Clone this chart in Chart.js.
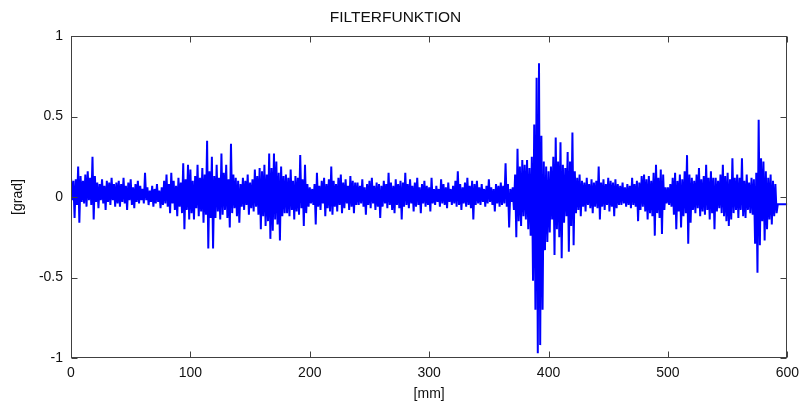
<!DOCTYPE html>
<html lang="de">
<head>
  <meta charset="UTF-8">
  <title>Filterfunktion</title>
  <script src="https://cdn.jsdelivr.net/npm/chart.js"></script>
  <style>
    html, body { margin: 0; padding: 0; background: #fff; }
    #wrap { width: 806px; height: 409px; }
  </style>
</head>
<body>
<div id="wrap"><canvas id="grafico"></canvas></div>

<script>
  const stepMm = 2;

  // obere Spitzen, je 2 mm (bei 0, 2, 4 ... 590 mm)
  const upperPeaks = [
    0.12, 0.10, 0.11, 0.19, 0.13, 0.10, 0.14, 0.16, 0.12, 0.25,
    0.13, 0.09, 0.08, 0.11, 0.07, 0.10, 0.09, 0.12, 0.08, 0.09,
    0.10, 0.08, 0.12, 0.07, 0.09, 0.11, 0.06, 0.08, 0.10, 0.07,
    0.05, 0.15, 0.06, 0.04, 0.07, 0.05, 0.08, 0.04, 0.06, 0.10,
    0.14, 0.08, 0.15, 0.10, 0.07, 0.12, 0.09, 0.21, 0.11, 0.20,
    0.17, 0.10, 0.13, 0.20, 0.12, 0.18, 0.14, 0.35, 0.16, 0.25,
    0.13, 0.20, 0.12, 0.27, 0.15, 0.20, 0.11, 0.33, 0.14, 0.12,
    0.10, 0.08, 0.12, 0.10, 0.14, 0.09, 0.11, 0.17, 0.13, 0.18,
    0.16, 0.20, 0.14, 0.27, 0.18, 0.27, 0.22, 0.15, 0.19, 0.13,
    0.14, 0.12, 0.17, 0.10, 0.13, 0.12, 0.26, 0.11, 0.20, 0.08,
    0.06, 0.05, 0.08, 0.15, 0.07, 0.10, 0.12, 0.08, 0.11, 0.19,
    0.10, 0.08, 0.12, 0.14, 0.09, 0.11, 0.07, 0.13, 0.10, 0.09,
    0.09, 0.07, 0.11, 0.06, 0.08, 0.10, 0.12, 0.07, 0.09, 0.08,
    0.07, 0.10, 0.08, 0.15, 0.09, 0.07, 0.11, 0.08, 0.10, 0.09,
    0.15, 0.08, 0.11, 0.07, 0.09, 0.12, 0.06, 0.08, 0.10, 0.07,
    0.06, 0.12, 0.05, 0.07, 0.05, 0.11, 0.08, 0.06, 0.09, 0.05,
    0.07, 0.10, 0.16, 0.08, 0.06, 0.09, 0.12, 0.07, 0.10, 0.08,
    0.10, 0.06, 0.08, 0.05, 0.07, 0.11, 0.06, 0.05, 0.08, 0.07,
    0.09, 0.07, 0.21, 0.08, 0.05, 0.06, 0.14, 0.30, 0.19, 0.23,
    0.20, 0.23, 0.18, 0.25, 0.45, 0.74, 0.83, 0.38, 0.22, 0.19,
    0.16, 0.19, 0.25, 0.37, 0.22, 0.34, 0.20, 0.18, 0.28, 0.22,
    0.40, 0.16, 0.12, 0.14, 0.10, 0.09, 0.12, 0.08, 0.11, 0.09,
    0.10, 0.19, 0.09, 0.11, 0.08, 0.12, 0.10, 0.09, 0.11, 0.08,
    0.07, 0.09, 0.06, 0.08, 0.07, 0.12, 0.08, 0.10, 0.09, 0.13,
    0.14, 0.11, 0.13, 0.10, 0.15, 0.20, 0.12, 0.17, 0.14, 0.06,
    0.06, 0.08, 0.12, 0.15, 0.10, 0.14, 0.11, 0.16, 0.26, 0.14,
    0.12, 0.10, 0.14, 0.18, 0.11, 0.13, 0.20, 0.12, 0.16, 0.12,
    0.12, 0.10, 0.14, 0.20, 0.13, 0.15, 0.11, 0.24, 0.12, 0.14,
    0.12, 0.24, 0.10, 0.14, 0.09, 0.12, 0.11, 0.15, 0.48, 0.24,
    0.22, 0.16, 0.12, 0.14, 0.10, 0.08
  ];

  // untere Spitzen, je 2 mm (bei 1, 3, 5 ... 591 mm)
  const lowerPeaks = [
    -0.02, -0.13, -0.05, -0.16, -0.03, -0.04, -0.06, -0.02, -0.05, -0.14,
    -0.03, -0.07, -0.02, -0.04, -0.08, -0.03, -0.05, -0.02, -0.06, -0.04,
    -0.06, -0.03, -0.04, -0.08, -0.02, -0.05, -0.07, -0.03, -0.04, -0.02,
    -0.04, -0.02, -0.05, -0.03, -0.06, -0.04, -0.03, -0.07, -0.05, -0.04,
    -0.06, -0.10, -0.04, -0.08, -0.12, -0.06, -0.10, -0.20, -0.08, -0.14,
    -0.10, -0.14, -0.07, -0.12, -0.09, -0.16, -0.11, -0.32, -0.13, -0.32,
    -0.13, -0.09, -0.14, -0.11, -0.08, -0.13, -0.19, -0.10, -0.07, -0.12,
    -0.16, -0.06, -0.08, -0.05, -0.11, -0.07, -0.09, -0.06, -0.11, -0.20,
    -0.12, -0.18, -0.15, -0.26, -0.21, -0.14, -0.17, -0.27, -0.12, -0.10,
    -0.10, -0.12, -0.08, -0.14, -0.09, -0.11, -0.07, -0.18, -0.10, -0.06,
    -0.04, -0.05, -0.17, -0.06, -0.08, -0.04, -0.12, -0.07, -0.09, -0.11,
    -0.06, -0.09, -0.05, -0.10, -0.07, -0.04, -0.08, -0.06, -0.10, -0.05,
    -0.05, -0.04, -0.06, -0.11, -0.05, -0.07, -0.04, -0.08, -0.06, -0.13,
    -0.06, -0.04, -0.07, -0.05, -0.08, -0.10, -0.05, -0.07, -0.14, -0.06,
    -0.05, -0.07, -0.04, -0.09, -0.06, -0.05, -0.10, -0.04, -0.06, -0.05,
    -0.09, -0.04, -0.05, -0.03, -0.06, -0.04, -0.05, -0.07, -0.03, -0.05,
    -0.04, -0.06, -0.05, -0.08, -0.04, -0.06, -0.05, -0.07, -0.14, -0.05,
    -0.04, -0.05, -0.03, -0.06, -0.04, -0.03, -0.05, -0.09, -0.04, -0.06,
    -0.05, -0.04, -0.06, -0.19, -0.03, -0.08, -0.25, -0.15, -0.18, -0.12,
    -0.14, -0.20, -0.24, -0.52, -0.70, -0.97, -0.92, -0.70, -0.33, -0.28,
    -0.22, -0.14, -0.36, -0.20, -0.25, -0.38, -0.16, -0.12, -0.34, -0.18,
    -0.30, -0.10, -0.08, -0.12, -0.06, -0.09, -0.05, -0.07, -0.10, -0.06,
    -0.07, -0.14, -0.06, -0.08, -0.05, -0.09, -0.06, -0.12, -0.07, -0.05,
    -0.05, -0.04, -0.06, -0.05, -0.07, -0.05, -0.06, -0.15, -0.08, -0.06,
    -0.09, -0.14, -0.10, -0.12, -0.24, -0.10, -0.13, -0.23, -0.08, -0.04,
    -0.05, -0.06, -0.11, -0.20, -0.09, -0.19, -0.12, -0.10, -0.29, -0.16,
    -0.08, -0.10, -0.07, -0.12, -0.09, -0.11, -0.08, -0.14, -0.10, -0.20,
    -0.09, -0.07, -0.10, -0.12, -0.15, -0.18, -0.14, -0.10, -0.08, -0.13,
    -0.08, -0.12, -0.13, -0.08, -0.10, -0.11, -0.29, -0.47, -0.30, -0.15,
    -0.27, -0.20, -0.14, -0.17, -0.12, -0.10
  ];

  // flaches Ende der Kurve
  const tailMm = [592, 600];
  const tailGrad = [-0.045, -0.045];

  const xTicks = [0, 100, 200, 300, 400, 500, 600];
  const yTicks = [-1, -0.5, 0, 0.5, 1];

  // Punkte abwechselnd oben / unten zusammensetzen
  const punkte = [];
  upperPeaks.forEach((v, i) => {
    punkte.push({x: i * stepMm, y: v});
    punkte.push({x: i * stepMm + 1, y: lowerPeaks[i]});
  });
  tailMm.forEach((m, i) => punkte.push({x: m, y: tailGrad[i]}));

  const achsFarbe = '#404040';
  const schrift = {family: 'Liberation Sans, Arial, sans-serif', size: 14};

  // Rahmen mit Ticks nach innen (wie bei MATLAB)
  const rahmen = {
    id: 'rahmen',
    afterDraw(chart) {
      const {ctx, chartArea: a, scales} = chart;
      const l = Math.round(a.left) + 0.5, r = Math.round(a.right) - 0.5;
      const t = Math.round(a.top) + 0.5, b = Math.round(a.bottom) - 0.5;
      const len = 6;
      ctx.save();
      ctx.strokeStyle = achsFarbe;
      ctx.lineWidth = 1;
      ctx.strokeRect(l, t, r - l, b - t);
      ctx.beginPath();
      xTicks.forEach(v => {
        const px = Math.round(scales.x.getPixelForValue(v)) + 0.5;
        ctx.moveTo(px, b); ctx.lineTo(px, b - len);
        ctx.moveTo(px, t); ctx.lineTo(px, t + len);
      });
      yTicks.forEach(v => {
        const py = Math.round(scales.y.getPixelForValue(v)) + 0.5;
        ctx.moveTo(l, py); ctx.lineTo(l + len, py);
        ctx.moveTo(r, py); ctx.lineTo(r - len, py);
      });
      ctx.stroke();
      ctx.restore();
    }
  };

  new Chart(document.getElementById('grafico'), {
    type: 'line',
    data: {
      datasets: [{
        data: punkte,
        borderColor: '#0000ff',
        borderWidth: 2,
        pointRadius: 0,
        tension: 0,
        fill: false
      }]
    },
    options: {
      responsive: true,
      maintainAspectRatio: false,
      animation: false,
      events: [],
      layout: {padding: {left: 0, right: 15, top: 0, bottom: 0}},
      plugins: {
        legend: {display: false},
        tooltip: {enabled: false},
        title: {
          display: true,
          text: 'FILTERFUNKTION',
          color: '#111',
          font: {family: schrift.family, size: 15.5, weight: 'normal'},
          padding: {top: 8, bottom: 9.4}
        }
      },
      scales: {
        x: {
          type: 'linear',
          min: 0,
          max: 600,
          grid: {display: false, drawTicks: false},
          border: {display: false},
          ticks: {
            stepSize: 100,
            color: '#111',
            font: schrift,
            padding: 7,
            maxRotation: 0
          },
          title: {
            display: true,
            text: '[mm]',
            color: '#111',
            font: schrift,
            padding: {top: 0, bottom: 6.6}
          },
          afterFit(scale) { scale.height = 51; }
        },
        y: {
          type: 'linear',
          min: -1,
          max: 1,
          grid: {display: false, drawTicks: false},
          border: {display: false},
          ticks: {
            stepSize: 0.5,
            color: '#111',
            font: schrift,
            padding: 8,
            callback: v => String(v)
          },
          title: {
            display: true,
            text: '[grad]',
            color: '#111',
            font: schrift,
            padding: {top: 9.6, bottom: 0}
          },
          afterFit(scale) { scale.width = 71; }
        }
      }
    },
    plugins: [rahmen]
  });
</script>
</body>
</html>
